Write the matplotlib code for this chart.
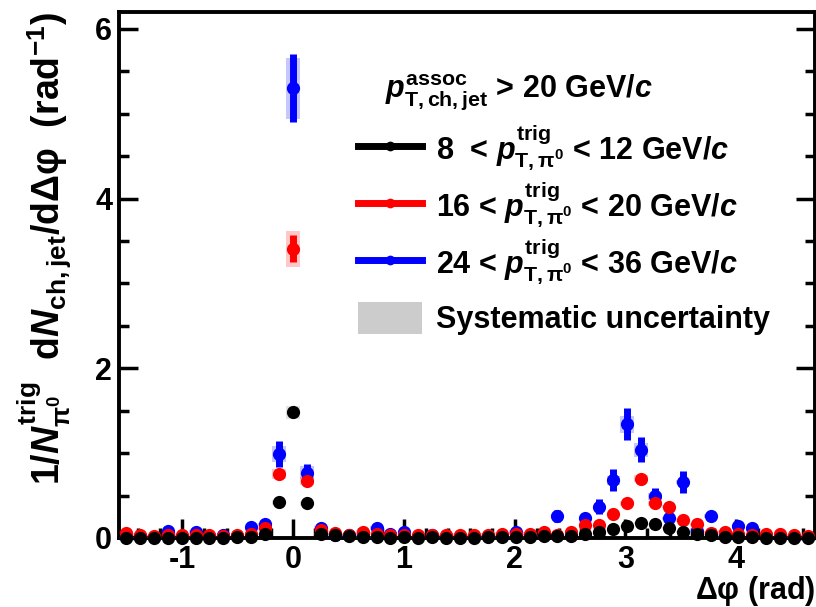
import matplotlib
matplotlib.use("Agg")
import matplotlib.pyplot as plt
import numpy as np
from matplotlib.lines import Line2D
from matplotlib.patches import Patch
from matplotlib.ticker import MultipleLocator

# ── Données ─────────────────────────────────────────────────────────────────

# 50 bins en Δφ sur [-π/2, 3π/2]
edges = np.linspace(-np.pi / 2, 3 * np.pi / 2, 51)
dphi = 0.5 * (edges[:-1] + edges[1:])

# 8 < pT(trig) < 12 GeV/c
y_low = [0.00, 0.00, 0.00, 0.00, 0.00, 0.00, 0.00, 0.00, 0.01, 0.01,
         0.05, 0.42, 1.48, 0.41, 0.05, 0.03, 0.02, 0.01, 0.01, 0.00,
         0.01, 0.00, 0.01, 0.00, 0.00, 0.00, 0.01, 0.01, 0.01, 0.01,
         0.02, 0.02, 0.02, 0.05, 0.07, 0.11, 0.14, 0.18, 0.16, 0.12,
         0.07, 0.05, 0.03, 0.01, 0.01, 0.01, 0.00, 0.00, 0.00, 0.00]
stat_low = [0.01] * 11 + [0.02, 0.03, 0.02] + [0.01] * 36
sys_low = [0.01] * 11 + [0.03, 0.08, 0.03] + [0.01] * 36

# 16 < pT(trig) < 20 GeV/c
y_mid = [0.06, 0.04, 0.02, 0.03, 0.04, 0.03, 0.04, 0.02, 0.04, 0.05,
         0.12, 0.75, 3.41, 0.67, 0.10, 0.06, 0.04, 0.07, 0.05, 0.03,
         0.04, 0.03, 0.04, 0.03, 0.04, 0.03, 0.04, 0.05, 0.05, 0.05,
         0.07, 0.03, 0.07, 0.15, 0.15, 0.28, 0.41, 0.70, 0.41, 0.37,
         0.21, 0.16, 0.06, 0.07, 0.05, 0.04, 0.05, 0.05, 0.03, 0.02]
stat_mid = [0.02] * 11 + [0.05, 0.16, 0.04] + [0.02] * 21 + \
           [0.03, 0.04, 0.05, 0.04, 0.04] + [0.02] * 10
sys_mid = [0.02] * 11 + [0.06, 0.21, 0.05] + [0.02] * 22 + \
          [0.03, 0.04, 0.03] + [0.02] * 11

# 24 < pT(trig) < 36 GeV/c
y_high = [0.02, 0.02, 0.01, 0.08, 0.02, 0.07, 0.02, 0.03, 0.02, 0.13,
          0.16, 0.99, 5.30, 0.77, 0.12, 0.04, 0.03, 0.04, 0.12, 0.05,
          0.07, 0.02, 0.04, 0.02, 0.02, 0.02, 0.02, 0.02, 0.07, 0.03,
          0.03, 0.26, 0.04, 0.24, 0.37, 0.68, 1.34, 1.04, 0.49, 0.23,
          0.66, 0.08, 0.26, 0.03, 0.14, 0.12, 0.02, 0.02, 0.01, 0.01]
stat_high = [0.02, 0.02, 0.02, 0.03, 0.02, 0.03, 0.02, 0.02, 0.02, 0.04,
             0.04, 0.15, 0.40, 0.10, 0.04, 0.02, 0.02, 0.02, 0.04, 0.02,
             0.03, 0.02, 0.02, 0.02, 0.02, 0.02, 0.02, 0.02, 0.03, 0.02,
             0.02, 0.07, 0.02, 0.05, 0.09, 0.13, 0.19, 0.15, 0.10, 0.05,
             0.13, 0.03, 0.06, 0.02, 0.05, 0.04, 0.02, 0.02, 0.02, 0.02]
sys_high = [0.02] * 11 + [0.10, 0.36, 0.08] + [0.02] * 21 + \
           [0.05, 0.10, 0.08, 0.04] + [0.02] * 11

TRIG = r"$p^{\mathrm{trig}}_{\mathrm{T,\pi^0}}$"
SERIES = [
    # (y, stat, sys, couleur, couleur syst., label)
    (y_high, stat_high, sys_high, "#0000ff", "#0000ff", "24 < " + TRIG + " < 36 GeV/$c$"),
    (y_mid, stat_mid, sys_mid, "#ff0000", "#ff0000", "16 < " + TRIG + " < 20 GeV/$c$"),
    (y_low, stat_low, sys_low, "#000000", "#808080", "8  < " + TRIG + " < 12 GeV/$c$"),
]

# ── Style ───────────────────────────────────────────────────────────────────

plt.rcParams["font.family"] = ["Liberation Sans", "DejaVu Sans"]
plt.rcParams["font.weight"] = "bold"
plt.rcParams["axes.labelweight"] = "bold"
plt.rcParams["axes.unicode_minus"] = False
plt.rcParams["mathtext.fontset"] = "custom"
plt.rcParams["mathtext.rm"] = "Liberation Sans:bold"
plt.rcParams["mathtext.bf"] = "Liberation Sans:bold"
plt.rcParams["mathtext.it"] = "Liberation Sans:italic:bold"
plt.rcParams["mathtext.sf"] = "Liberation Sans:bold"

FS = 22

fig = plt.figure(figsize=(8.16, 6.07), dpi=100)
ax = fig.add_axes([0.1458, 0.1137, 0.853, 0.8665])

for z, (y, stat, sys, col, scol, lab) in enumerate(SERIES):
    y = np.asarray(y)
    sys = np.asarray(sys)
    ax.bar(dphi, 2 * sys, bottom=y - sys, width=0.12, color=scol,
           alpha=0.22, linewidth=0, zorder=2 + z)
    ax.errorbar(dphi, y, yerr=stat, fmt="o", color=col, ms=9.5, mew=0,
                elinewidth=5, capsize=0, zorder=3 + z, clip_on=False)

ax.set_xlim(-np.pi / 2, 3 * np.pi / 2)
ax.set_ylim(0, 6.2)

ax.xaxis.set_major_locator(MultipleLocator(1))
ax.xaxis.set_minor_locator(MultipleLocator(0.2))
ax.yaxis.set_major_locator(MultipleLocator(2))
ax.yaxis.set_minor_locator(MultipleLocator(0.5))
ax.tick_params(which="both", direction="in", width=2.5, labelsize=FS,
               right=True, top=False, pad=5)
ax.tick_params(which="major", length=14)
ax.tick_params(which="minor", length=7)
for s in ax.spines.values():
    s.set_linewidth(2.8)
for lbl in ax.get_xticklabels() + ax.get_yticklabels():
    lbl.set_fontweight("bold")

ax.set_xlabel(r"$\mathrm{\Delta\varphi}$ (rad)", fontsize=FS, loc="right",
              labelpad=-1, fontweight="bold")
ax.set_ylabel(r"1/$N^{\mathrm{trig}}_{\mathrm{\pi^0}}\ $ d$N_{\mathrm{ch,jet}}$/d$\mathrm{\Delta\varphi}$  (rad$^{\mathrm{-1}}$)",
              fontsize=27, loc="top", fontweight="bold")
ax.yaxis.set_label_coords(-0.066, 1.0)

# ── Légende ────────────────────────────────────────────────────────────────

ax.text(0.382, 0.838, r"$p^{\mathrm{assoc}}_{\mathrm{T,ch,jet}}$ > 20 GeV/$c$",
        transform=ax.transAxes, fontsize=FS, va="baseline", ha="left")

handles = []
labels = []
for y, stat, sys, col, scol, lab in SERIES[::-1]:
    handles.append(Line2D([], [], color=col, lw=5, marker="o", ms=7, mew=0))
    labels.append(lab)

leg = ax.legend(handles, labels, loc="upper left", bbox_to_anchor=(0.343, 0.789),
                frameon=False, fontsize=FS, handlelength=2.1, handleheight=1.3,
                handletextpad=0.45, labelspacing=0.2, borderpad=0, borderaxespad=0)
ax.add_artist(leg)

ax.legend([Patch(facecolor="#cccccc", edgecolor="none")], ["Systematic uncertainty"],
          loc="upper left", bbox_to_anchor=(0.343, 0.449), frameon=False,
          fontsize=FS, handlelength=2.1, handleheight=1.25, handletextpad=0.45,
          borderpad=0, borderaxespad=0)

fig.savefig("out.png", dpi=100)
